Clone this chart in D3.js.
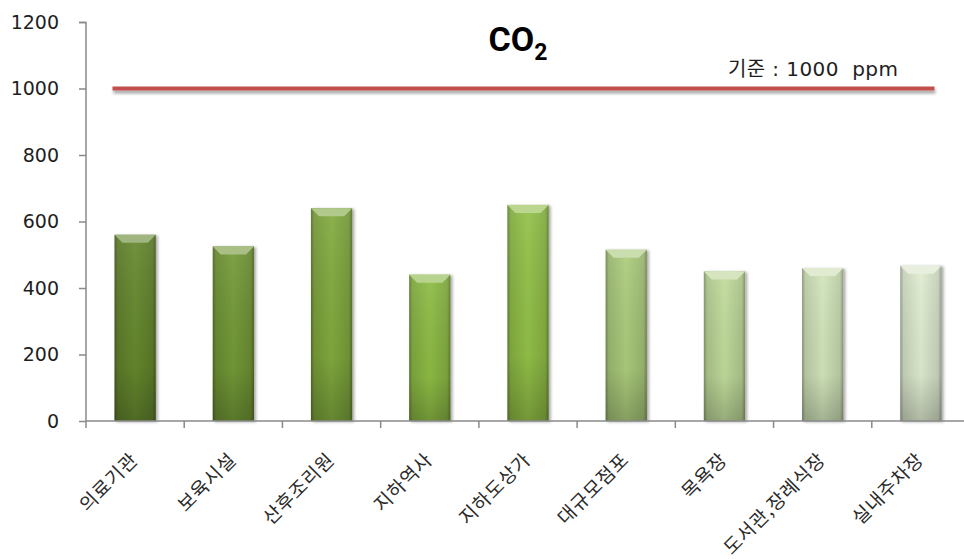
<!DOCTYPE html>
<html lang="ko">
<head>
<meta charset="utf-8">
<script src="https://cdn.jsdelivr.net/npm/d3@7"></script>
<style>
  html, body { margin: 0; padding: 0; background: #fff; }
  svg { display: block; }
</style>
</head>
<body>
<svg id="chart" width="964" height="559"></svg>
<script>
// Facility types and their mean CO2 concentration (ppm)
const categories = ["의료기관", "보육시설", "산후조리원", "지하역사", "지하도상가", "대규모점포", "목욕장", "도서관,장례식장", "실내주차장"];
const co2Values = [560, 525, 640, 440, 650, 515, 450, 460, 467];
const yTicks = [0, 200, 400, 600, 800, 1000, 1200];
const standardValue = 1000;
const standardLabel = "기준 : 1000  ppm";

// Fill colours per bar, dark olive to pale green
const palette = ["#62842c", "#6f9535", "#7da53c", "#89b643", "#8ebb45", "#a6c678", "#bad496", "#cbdeb4", "#d8e5ca"];

const svg = d3.select("#chart");
const axisLeft = 86, axisRight = 970, axisBottom = 421, axisTop = 22;

const x = d3.scaleBand()
  .domain(categories)
  .range([axisLeft, axisRight])
  .paddingInner(0.58)
  .paddingOuter(0.29);

const y = d3.scaleLinear().domain([0, 1200]).range([axisBottom, axisTop]);

const defs = svg.append("defs");

const shadow = defs.append("filter").attr("id", "barShadow")
  .attr("x", "-30%").attr("y", "-10%").attr("width", "160%").attr("height", "130%");
shadow.append("feDropShadow")
  .attr("dx", 2).attr("dy", 1).attr("stdDeviation", 1.6)
  .attr("flood-color", "#000").attr("flood-opacity", 0.35);

const lineShadow = defs.append("filter").attr("id", "lineShadow")
  .attr("x", "-5%").attr("y", "-150%").attr("width", "110%").attr("height", "400%");
lineShadow.append("feDropShadow")
  .attr("dx", 1).attr("dy", 3).attr("stdDeviation", 1.8)
  .attr("flood-color", "#000").attr("flood-opacity", 0.35);

// Side shading for the bevelled bars
palette.forEach((c, i) => {
  const base = d3.color(c);
  const g = defs.append("linearGradient").attr("id", "barGrad" + i)
    .attr("x1", 0).attr("x2", 1).attr("y1", 0).attr("y2", 0);
  g.append("stop").attr("offset", "0%").attr("stop-color", base.darker(1.1));
  g.append("stop").attr("offset", "8%").attr("stop-color", base.darker(0.25));
  g.append("stop").attr("offset", "50%").attr("stop-color", base.brighter(0.1));
  g.append("stop").attr("offset", "92%").attr("stop-color", base.darker(0.25));
  g.append("stop").attr("offset", "100%").attr("stop-color", base.darker(1.1));
});
const vShade = defs.append("linearGradient").attr("id", "vShade")
  .attr("x1", 0).attr("x2", 0).attr("y1", 0).attr("y2", 1);
vShade.append("stop").attr("offset", "0%").attr("stop-color", "#fff").attr("stop-opacity", 0.08);
vShade.append("stop").attr("offset", "70%").attr("stop-color", "#000").attr("stop-opacity", 0.04);
vShade.append("stop").attr("offset", "100%").attr("stop-color", "#000").attr("stop-opacity", 0.22);

// Axes
const axisColor = "#8a8a8a";
const yAxis = svg.append("g")
  .attr("transform", `translate(${axisLeft},0)`)
  .call(d3.axisLeft(y).tickValues(yTicks).tickSize(7).tickPadding(20).tickFormat(d3.format("d")));
yAxis.select(".domain").attr("stroke", axisColor).attr("stroke-width", 1.5).attr("d", `M-7,${axisTop}.5H0V${axisBottom}`);
yAxis.selectAll(".tick line").attr("stroke", axisColor).attr("stroke-width", 1.5);
yAxis.selectAll(".tick text")
  .attr("font-family", "'DejaVu Sans', Verdana, sans-serif")
  .attr("font-size", 19).attr("fill", "#1e1e1e");

// Bars
const bars = svg.append("g");
const bw = x.bandwidth();
categories.forEach((cat, i) => {
  const x0 = x(cat), y0 = y(co2Values[i]), h = y(0) - y0;
  const g = bars.append("g").attr("filter", "url(#barShadow)");
  g.append("rect").attr("x", x0).attr("y", y0).attr("width", bw).attr("height", h)
    .attr("fill", `url(#barGrad${i})`);
  g.append("rect").attr("x", x0).attr("y", y0).attr("width", bw).attr("height", h)
    .attr("fill", "url(#vShade)");
  const bevel = 8;
  const top = d3.interpolateRgb(palette[i], "#ffffff")(0.4);
  g.append("path")
    .attr("d", `M${x0},${y0}H${x0 + bw}L${x0 + bw - bevel},${y0 + bevel}H${x0 + bevel}Z`)
    .attr("fill", top);
});

// X axis with ticks on category boundaries
const xAxisG = svg.append("g");
xAxisG.append("line")
  .attr("x1", axisLeft).attr("x2", axisRight)
  .attr("y1", axisBottom).attr("y2", axisBottom)
  .attr("stroke", axisColor).attr("stroke-width", 1.5);
const gap = (x.step() - bw) / 2;
const boundaries = categories.map(c => x(c) - gap);
xAxisG.selectAll("line.tick").data(boundaries).join("line")
  .attr("class", "tick")
  .attr("x1", d => d).attr("x2", d => d)
  .attr("y1", axisBottom).attr("y2", axisBottom + 7)
  .attr("stroke", axisColor).attr("stroke-width", 1.5);
xAxisG.selectAll("text").data(categories).join("text")
  .attr("transform", d => `translate(${x(d) + bw / 2 + 4},${axisBottom + 40}) rotate(-45)`)
  .attr("text-anchor", "end")
  .attr("font-family", "'Noto Sans CJK KR', sans-serif")
  .attr("font-size", 19)
  .attr("letter-spacing", 0.8)
  .attr("fill", "#2a2a2a")
  .text(d => d);

// Standard level line
const lineStart = x(categories[0]) - 2;
const lineEnd = x(categories[categories.length - 1]) + bw * 0.83;
svg.append("rect")
  .attr("x", lineStart).attr("width", lineEnd - lineStart)
  .attr("y", y(standardValue) - 2).attr("height", 4)
  .attr("fill", "#c0504d")
  .attr("filter", "url(#lineShadow)");

svg.append("text")
  .attr("x", 728).attr("y", y(standardValue) - 13)
  .attr("font-family", "'DejaVu Sans', 'Noto Sans CJK KR', sans-serif")
  .attr("font-size", 20).attr("fill", "#1e1e1e")
  .attr("letter-spacing", 0.4)
  .style("white-space", "pre")
  .text(standardLabel);

// Title
const title = svg.append("text")
  .attr("x", 518).attr("y", 51)
  .attr("text-anchor", "middle")
  .attr("font-family", "Roboto, 'Liberation Sans', sans-serif")
  .attr("font-weight", "bold")
  .attr("font-size", 34)
  .attr("fill", "#000");
title.append("tspan").text("CO");
title.append("tspan").attr("dy", 9).attr("font-size", 23).text("2");
</script>
</body>
</html>
